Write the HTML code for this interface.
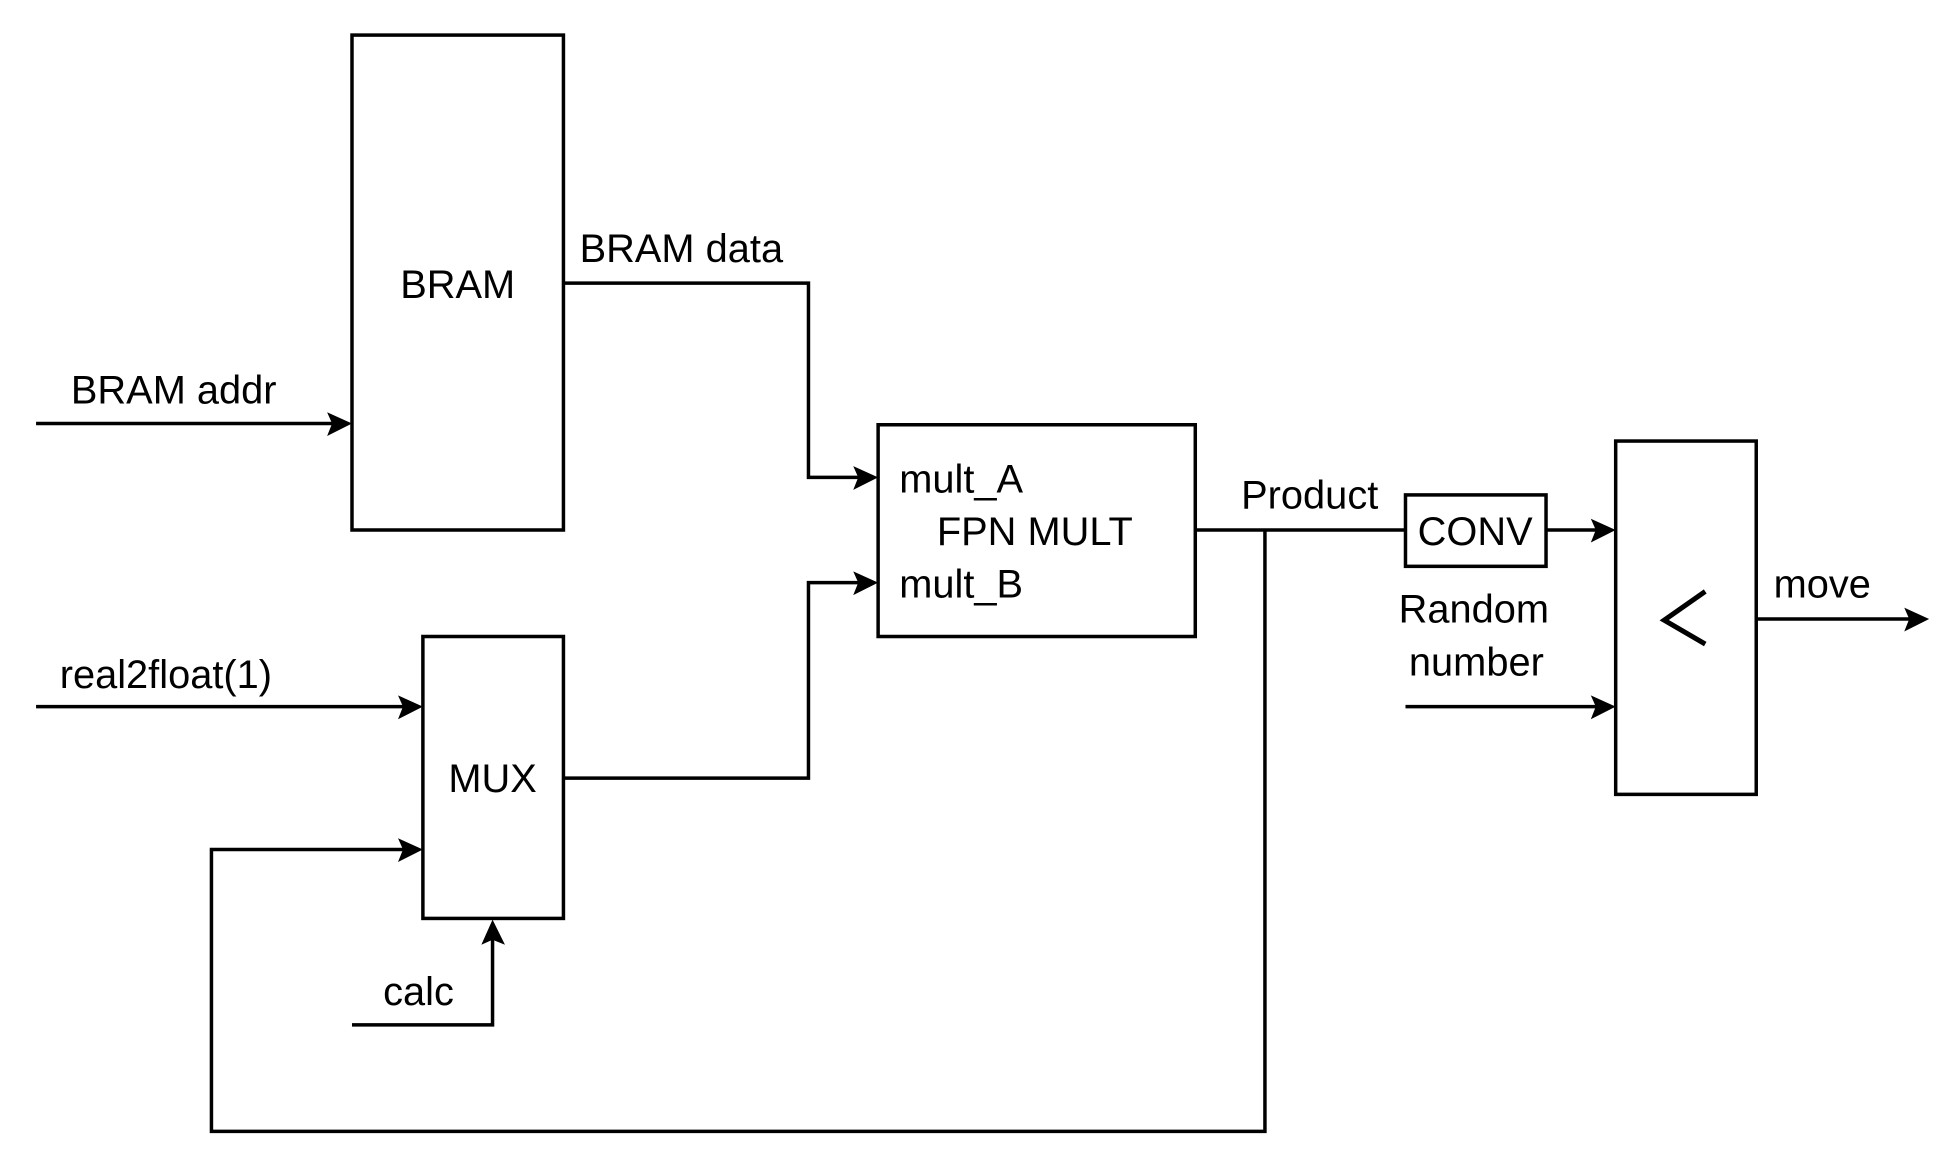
<!DOCTYPE html>
<html><head><meta charset="utf-8"><style>
html,body{margin:0;padding:0;background:#fff;}
svg{display:block;}
text{font-family:"Liberation Sans",sans-serif;font-size:32px;fill:#000;}
</style></head><body>
<svg width="1954" height="1164" viewBox="-2 2 1571 929" preserveAspectRatio="none" xmlns="http://www.w3.org/2000/svg">
<g fill="none" stroke="#000" stroke-width="2.8">
<rect x="281" y="30" width="170" height="395"/>
<rect x="704" y="341" width="255" height="169"/>
<rect x="338" y="510" width="113" height="225"/>
<rect x="1128" y="397" width="113" height="57"/>
<rect x="1297" y="354" width="113" height="282"/>
<polyline points="27,340 270,340"/>
<polyline points="451,228 648,228 648,383 694,383"/>
<polyline points="27,566 327,566"/>
<polyline points="451,623 648,623 648,467 694,467"/>
<polyline points="959,425 1128,425"/>
<polyline points="1015,425 1015,905 168,905 168,680 327,680"/>
<polyline points="281,820 394,820 394,747"/>
<polyline points="1241,425 1287,425"/>
<polyline points="1128,566 1287,566"/>
<polyline points="1410,496 1538,496"/>
<polyline points="1369,474 1336,497 1369,516" stroke-width="4"/>
</g>
<g fill="#000">
<polygon points="281,340 261,331 265,340 261,350"/>
<polygon points="704,383 684,374 688,383 684,393"/>
<polygon points="704,467 684,458 688,467 684,477"/>
<polygon points="338,566 318,557 322,566 318,576"/>
<polygon points="338,680 318,671 322,680 318,690"/>
<polygon points="394,736 385,756 394,752 404,756"/>
<polygon points="1297,425 1277,416 1281,425 1277,435"/>
<polygon points="1297,566 1277,557 1281,566 1277,576"/>
<polygon points="1549,496 1529,487 1533,496 1529,506"/>
</g>
<text x="366" y="240" text-anchor="middle">BRAM</text>
<text x="55" y="324">BRAM addr</text>
<text x="464" y="211">BRAM data</text>
<text x="721" y="395">mult_A</text>
<text x="830" y="437" text-anchor="middle">FPN MULT</text>
<text x="721" y="479">mult_B</text>
<text x="394" y="634" text-anchor="middle">MUX</text>
<text x="46" y="551">real2float(1)</text>
<text x="306" y="804">calc</text>
<text x="1051" y="408" text-anchor="middle">Product</text>
<text x="1184" y="437" text-anchor="middle">CONV</text>
<text x="1183" y="499" text-anchor="middle">Random</text>
<text x="1185" y="541" text-anchor="middle">number</text>
<text x="1424" y="479">move</text>
</svg>
</body></html>
